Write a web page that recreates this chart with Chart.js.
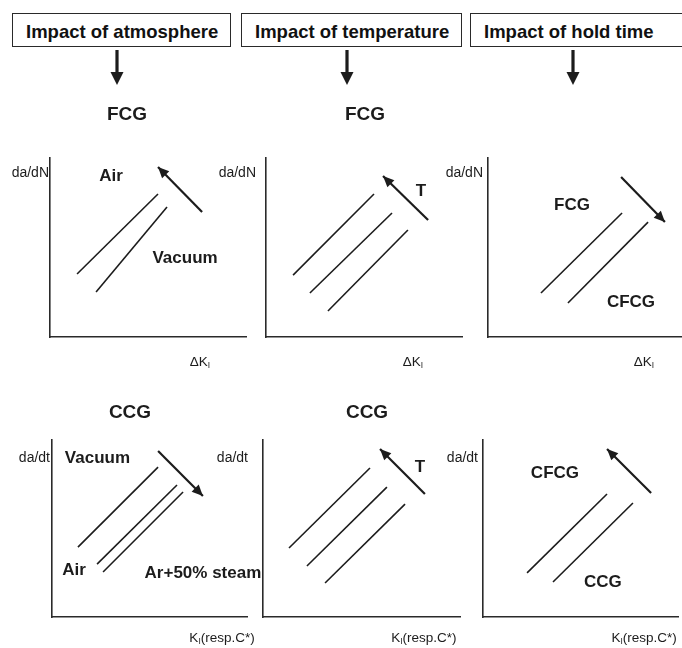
<!DOCTYPE html>
<html>
<head>
<meta charset="utf-8">
<title>Impact of atmosphere, temperature and hold time on FCG and CCG</title>
<script src="https://cdn.jsdelivr.net/npm/chart.js"></script>
<style>
  body { margin: 0; background: #fff; }
  #wrap { position: relative; width: 682px; height: 648px; overflow: hidden; font-family: "Liberation Sans", Arial, sans-serif; }
  #wrap canvas { position: absolute; left: 0; top: 0; }
  .box { position: absolute; top: 13px; height: 34px; box-sizing: border-box; border: 1.5px solid #2a2a2a;
         font-weight: bold; font-size: 18.5px; color: #111; padding-left: 13px; line-height: 35px; white-space: nowrap; }
</style>
</head>
<body>
<div id="wrap">
  <div class="box" style="left:12px; width:219px;">Impact of atmosphere</div>
  <div class="box" style="left:241px; width:221px;">Impact of temperature</div>
  <div class="box" style="left:470px; width:230px;">Impact of hold time</div>
  <canvas id="c1" width="682" height="648"></canvas>
  <canvas id="c2" width="682" height="648"></canvas>
  <canvas id="c3" width="682" height="648"></canvas>
  <canvas id="c4" width="682" height="648"></canvas>
  <canvas id="c5" width="682" height="648"></canvas>
  <canvas id="c6" width="682" height="648"></canvas>
</div>

<script>
    // schematic values, axes run 0..10 in every panel

    // FCG - atmosphere
    var atmFcgAir = [[1.38, 3.52], [5.51, 7.99]];
    var atmFcgVacuum = [[2.35, 2.51], [5.97, 7.26]];
    var atmFcgArrow = [[7.76, 6.98], [5.51, 9.50]];
    var atmFcgLabels = [['Air', 3.11, 8.99], ['Vacuum', 6.89, 4.41]];

    // FCG - temperature
    var tempFcgLow = [[1.38, 3.46], [5.51, 7.99]];
    var tempFcgMid = [[2.24, 2.46], [6.43, 6.93]];
    var tempFcgHigh = [[3.16, 1.45], [7.24, 5.98]];
    var tempFcgArrow = [[8.27, 6.54], [5.97, 8.99]];
    var tempFcgLabels = [['T', 7.91, 8.16]];

    // FCG - hold time
    var holdFcgPure = [[2.73, 2.46], [6.91, 6.93]];
    var holdFcgCreep = [[4.12, 1.90], [8.25, 6.42]];
    var holdFcgArrow = [[6.86, 8.94], [9.12, 6.42]];
    var holdFcgLabels = [['FCG', 4.33, 7.37], ['CFCG', 7.37, 1.96]];

    // CCG - atmosphere
    var atmCcgVacuum = [[1.33, 3.95], [5.44, 8.47]];
    var atmCcgAir = [[2.31, 2.99], [6.41, 7.46]];
    var atmCcgSteam = [[2.62, 2.54], [6.72, 7.06]];
    var atmCcgArrow = [[5.44, 9.38], [7.74, 6.84]];
    var atmCcgLabels = [['Vacuum', 2.33, 8.98], ['Air', 1.13, 2.66], ['Ar+50% steam', 7.74, 2.49]];

    // CCG - temperature
    var tempCcgLow = [[1.32, 3.90], [5.43, 8.42]];
    var tempCcgMid = [[2.23, 2.88], [6.29, 7.34]];
    var tempCcgHigh = [[3.15, 1.92], [7.21, 6.38]];
    var tempCcgArrow = [[8.22, 6.95], [5.94, 9.49]];
    var tempCcgLabels = [['T', 7.97, 8.47]];

    // CCG - hold time
    var holdCcgCfcg = [[2.26, 2.49], [6.36, 6.95]];
    var holdCcgCcg = [[3.59, 1.98], [7.69, 6.44]];
    var holdCcgArrow = [[8.62, 7.01], [6.36, 9.49]];
    var holdCcgLabels = [['CFCG', 3.69, 8.14], ['CCG', 6.15, 1.98]];

    var INK = '#1c1c1c';
    var FONT = '"Liberation Sans", Arial, sans-serif';

    // area = [left, right, top, bottom] of the axes on the page
    var panels = [
        { id: 'c1', area: [50, 246, 158, 337], lines: [atmFcgAir, atmFcgVacuum], arrow: atmFcgArrow, labels: atmFcgLabels,
          title: 'FCG', titleX: 3.93, titleDy: 43, yTitle: 'da/dN', yGap: 1, yDy: 15, xTitle: 'ΔK_I', xTitleX: 7.65, xDy: 25, head: 117 },
        { id: 'c2', area: [266, 462, 158, 337], lines: [tempFcgLow, tempFcgMid, tempFcgHigh], arrow: tempFcgArrow, labels: tempFcgLabels,
          title: 'FCG', titleX: 5.05, titleDy: 43, yTitle: 'da/dN', yGap: 10, yDy: 15, xTitle: 'ΔK_I', xTitleX: 7.5, xDy: 25, head: 347 },
        { id: 'c3', area: [488, 682, 158, 337], lines: [holdFcgPure, holdFcgCreep], arrow: holdFcgArrow, labels: holdFcgLabels,
          title: '', yTitle: 'da/dN', yGap: 5, yDy: 15, xTitle: 'ΔK_I', xTitleX: 8.04, xDy: 25, head: 573 },
        { id: 'c4', area: [52, 247, 440, 617], lines: [atmCcgVacuum, atmCcgAir, atmCcgSteam], arrow: atmCcgArrow, labels: atmCcgLabels,
          title: 'CCG', titleX: 4.0, titleDy: 27, yTitle: 'da/dt', yGap: 2, yDy: 18, xTitle: 'K_I(resp.C*)', xTitleX: 8.72, xDy: 21 },
        { id: 'c5', area: [263, 460, 440, 617], lines: [tempCcgLow, tempCcgMid, tempCcgHigh], arrow: tempCcgArrow, labels: tempCcgLabels,
          title: 'CCG', titleX: 5.28, titleDy: 27, yTitle: 'da/dt', yGap: 15, yDy: 18, xTitle: 'K_I(resp.C*)', xTitleX: 8.17, xDy: 21 },
        { id: 'c6', area: [483, 678, 440, 617], lines: [holdCcgCfcg, holdCcgCcg], arrow: holdCcgArrow, labels: holdCcgLabels,
          title: '', yTitle: 'da/dt', yGap: 5, yDy: 18, xTitle: 'K_I(resp.C*)', xTitleX: 8.26, xDy: 21 }
    ];

    // text with a one-letter subscript after "_"
    function drawRich(ctx, str, cx, cy, size) {
        var chunks = str.split('_');
        var parts = [{ t: chunks[0], sub: false }];
        for (var i = 1; i < chunks.length; i++) {
            parts.push({ t: chunks[i].charAt(0), sub: true });
            if (chunks[i].length > 1) parts.push({ t: chunks[i].slice(1), sub: false });
        }
        var total = 0;
        parts.forEach(function (p) {
            ctx.font = (p.sub ? size * 0.62 : size) + 'px ' + FONT;
            p.w = ctx.measureText(p.t).width;
            total += p.w;
        });
        var x = cx - total / 2;
        ctx.textAlign = 'left';
        parts.forEach(function (p) {
            ctx.font = (p.sub ? size * 0.62 : size) + 'px ' + FONT;
            ctx.fillText(p.t, x, p.sub ? cy + 4 : cy);
            x += p.w;
        });
    }

    function arrowHead(ctx, x0, y0, x1, y1, len, half) {
        var a = Math.atan2(y1 - y0, x1 - x0);
        ctx.beginPath();
        ctx.moveTo(x1, y1);
        ctx.lineTo(x1 - len * Math.cos(a) + half * Math.sin(a), y1 - len * Math.sin(a) - half * Math.cos(a));
        ctx.lineTo(x1 - len * Math.cos(a) - half * Math.sin(a), y1 - len * Math.sin(a) + half * Math.cos(a));
        ctx.closePath();
        ctx.fill();
    }

    var panelText = {
        id: 'panelText',
        afterDraw: function (chart) {
            var p = chart.options.plugins.panelText;
            var ctx = chart.ctx;
            var xs = chart.scales.x, ys = chart.scales.y;
            var area = chart.chartArea;
            ctx.save();
            ctx.fillStyle = INK;
            ctx.strokeStyle = INK;
            ctx.textBaseline = 'middle';

            // arrow heads on the trend arrows
            chart.data.datasets.forEach(function (ds, i) {
                if (!ds.isArrow) return;
                var pts = chart.getDatasetMeta(i).data;
                arrowHead(ctx, pts[0].x, pts[0].y, pts[1].x, pts[1].y, 11, 5);
            });

            // labels inside the panel
            ctx.font = 'bold 17px ' + FONT;
            ctx.textAlign = 'center';
            p.labels.forEach(function (l) {
                ctx.fillText(l[0], xs.getPixelForValue(l[1]), ys.getPixelForValue(l[2]));
            });

            // panel title
            if (p.title) {
                ctx.font = 'bold 19px ' + FONT;
                ctx.fillText(p.title, xs.getPixelForValue(p.titleX), area.top - p.titleDy);
            }

            // axis names
            ctx.font = '14px ' + FONT;
            ctx.textAlign = 'right';
            ctx.fillText(p.yTitle, area.left - p.yGap, area.top + p.yDy);
            drawRich(ctx, p.xTitle, xs.getPixelForValue(p.xTitleX), area.bottom + p.xDy, 13.5);

            // down arrow under the header box
            if (p.head) {
                ctx.lineWidth = 3.2;
                ctx.beginPath();
                ctx.moveTo(p.head, 50);
                ctx.lineTo(p.head, 74);
                ctx.stroke();
                arrowHead(ctx, p.head, 50, p.head, 85, 13, 6.5);
            }
            ctx.restore();
        }
    };

    function toPoints(seg) {
        return seg.map(function (v) { return { x: v[0], y: v[1] }; });
    }

    function axis() {
        return {
            type: 'linear', min: 0, max: 10,
            ticks: { display: false },
            grid: { display: false, drawTicks: false },
            border: { display: true, color: '#2a2a2a', width: 1.6 }
        };
    }

    panels.forEach(function (p) {
        var datasets = p.lines.map(function (seg) {
            return { data: toPoints(seg), showLine: true, borderColor: INK, borderWidth: 1.6, pointRadius: 0, fill: false };
        });
        datasets.push({ data: toPoints(p.arrow), showLine: true, borderColor: INK, borderWidth: 2.2, pointRadius: 0, fill: false, isArrow: true });

        new Chart(document.getElementById(p.id).getContext('2d'), {
            type: 'scatter',
            data: { datasets: datasets },
            options: {
                responsive: false,
                animation: false,
                events: [],
                layout: { padding: { left: p.area[0], right: 682 - p.area[1], top: p.area[2], bottom: 648 - p.area[3] } },
                plugins: { legend: { display: false }, tooltip: { enabled: false }, panelText: p },
                scales: { x: axis(), y: axis() }
            },
            plugins: [panelText]
        });
    });
</script>
</body>
</html>
